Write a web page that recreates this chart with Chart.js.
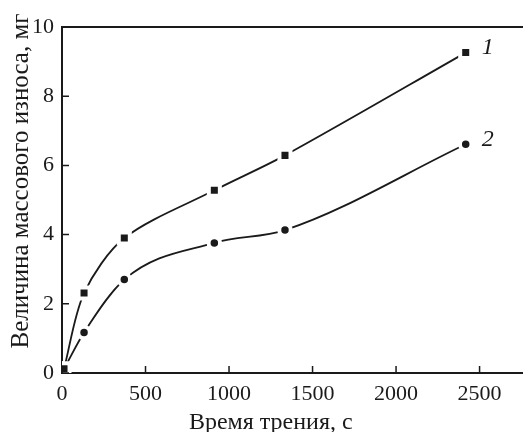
<!DOCTYPE html>
<html>
<head>
<meta charset="utf-8">
<script src="https://cdn.jsdelivr.net/npm/chart.js@4"></script>
<style>
  html, body { margin: 0; padding: 0; background: #fff; overflow: hidden; }
  #wrap { width: 523px; height: 432px; }
</style>
</head>
<body>
<div id="wrap"><canvas id="chart"></canvas></div>
<script>
// friction time (s) vs. mass wear (mg), two curves
const timeS = [12, 132, 373, 912, 1335, 2417];
const wear1 = [0.12, 2.31, 3.9, 5.28, 6.29, 9.26];
const wear2 = [0.12, 1.17, 2.7, 3.76, 4.13, 6.61];
const curveNames = ["1", "2"];
const xTicks = [0, 500, 1000, 1500, 2000, 2500];
const yTicks = [0, 2, 4, 6, 8, 10];
const xTitle = "Время трения, с";
const yTitle = "Величина массового износа, мг";

const INK = "#1a1a1a";
const SERIF = "'Liberation Serif', 'Times New Roman', serif";

const pts = ys => timeS.map((x, i) => ({ x, y: ys[i] }));

// inward ticks, top frame line, axis titles, curve numbers
const decor = {
  id: "decor",
  afterDraw(chart) {
    const { ctx, chartArea: a, scales: { x, y } } = chart;
    ctx.save();
    ctx.strokeStyle = INK;
    ctx.lineWidth = 2;
    ctx.beginPath();
    ctx.moveTo(a.left - 1, a.top);
    ctx.lineTo(a.right + 2, a.top);
    ctx.stroke();
    ctx.lineWidth = 1.5;
    ctx.beginPath();
    xTicks.forEach(v => { const px = x.getPixelForValue(v); ctx.moveTo(px, a.bottom); ctx.lineTo(px, a.bottom - 7); });
    yTicks.forEach(v => { const py = y.getPixelForValue(v); ctx.moveTo(a.left, py); ctx.lineTo(a.left + 7, py); });
    ctx.stroke();

    ctx.fillStyle = INK;
    ctx.font = `24px ${SERIF}`;
    ctx.textAlign = "center";
    ctx.textBaseline = "alphabetic";
    ctx.fillText(xTitle, x.getPixelForValue(1250), 429);
    ctx.save();
    ctx.translate(28, 181);
    ctx.rotate(-Math.PI / 2);
    ctx.font = `25px ${SERIF}`;
    ctx.fillText(yTitle, 0, 0);
    ctx.restore();

    ctx.font = `italic 24px ${SERIF}`;
    ctx.textAlign = "left";
    ctx.textBaseline = "middle";
    chart.data.datasets.forEach((ds, i) => {
      const meta = chart.getDatasetMeta(i);
      const last = meta.data[meta.data.length - 1];
      ctx.fillText(curveNames[i], last.x + 16, last.y - 5);
    });
    ctx.restore();
  }
};

new Chart(document.getElementById("chart"), {
  type: "scatter",
  data: {
    datasets: [
      { label: curveNames[0], data: pts(wear1), showLine: true, tension: 0.3,
        borderColor: INK, borderWidth: 1.8, pointStyle: "rect", pointRadius: 7.8, pointBackgroundColor: INK,
        pointBorderColor: "#fff", pointBorderWidth: 4, order: 0 },
      { label: curveNames[1], data: pts(wear2), showLine: true, cubicInterpolationMode: "monotone",
        borderColor: INK, borderWidth: 1.8, pointStyle: "circle", pointRadius: 5.75, pointBackgroundColor: INK,
        pointBorderColor: "#fff", pointBorderWidth: 4, order: 1 }
    ]
  },
  options: {
    responsive: true,
    maintainAspectRatio: false,
    animation: false,
    layout: { autoPadding: false, padding: { top: 27, right: 0, left: 0, bottom: 0 } },
    plugins: { legend: { display: false }, tooltip: { enabled: false } },
    scales: {
      x: {
        type: "linear", min: 0, max: 2760,
        afterBuildTicks: s => { s.ticks = xTicks.map(value => ({ value })); },
        afterFit: s => { s.height = 59; s.paddingLeft = 0; s.paddingRight = 0; },
        grid: { drawOnChartArea: false, drawTicks: false },
        border: { display: true, color: INK, width: 2 },
        ticks: { color: INK, font: { family: SERIF, size: 22 }, padding: 8, maxRotation: 0, callback: v => String(v) }
      },
      y: {
        type: "linear", min: 0, max: 10,
        afterBuildTicks: s => { s.ticks = yTicks.map(value => ({ value })); },
        afterFit: s => { s.width = 62; },
        grid: { drawOnChartArea: false, drawTicks: false },
        border: { display: true, color: INK, width: 2 },
        ticks: { color: INK, font: { family: SERIF, size: 22 }, padding: 8, callback: v => String(v) }
      }
    }
  },
  plugins: [decor]
});
</script>
</body>
</html>
